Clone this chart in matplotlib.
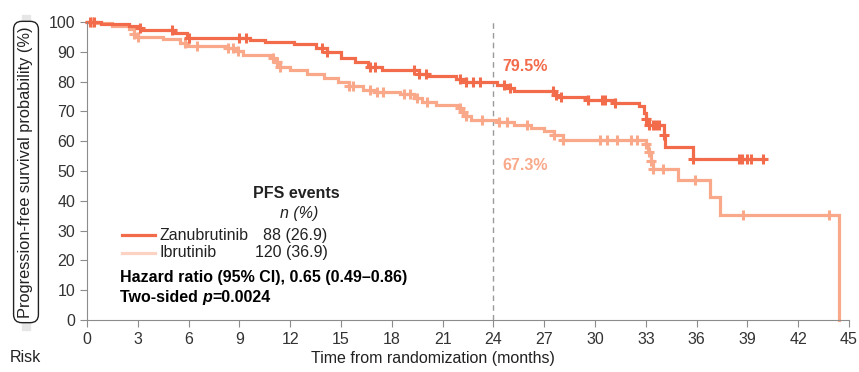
import matplotlib.pyplot as plt
import numpy as np
from matplotlib.lines import Line2D
from matplotlib.patches import Rectangle

plt.rcParams["font.family"] = ["Liberation Sans", "DejaVu Sans"]

ZANU_COLOR = "#f26b4b"
IBRU_COLOR = "#f9a98a"
IBRU_LEGEND = "#fcd3c3"
TEXT_COLOR = "#222222"
AXIS_COLOR = "#8c8c8c"

# Kaplan-Meier steps (months, PFS %)
zanu_time = [0, 0.8, 2.5, 3.0, 3.2, 5.2, 5.9, 9.6, 10.5, 12.2, 13.5, 14.2, 15.0,
             15.8, 16.6, 17.4, 19.6, 20.2, 21.8, 22.4, 24.2, 24.8, 25.2, 27.6,
             27.9, 29.6, 31.2, 32.6, 32.9, 33.0, 33.2, 34.05, 34.15, 35.8, 40.0]
zanu_surv = [100, 99.4, 98.8, 98.0, 97.2, 96.4, 94.5, 94.0, 93.2, 92.5, 91.2, 89.8,
             88.0, 86.5, 85.0, 83.8, 82.6, 82.0, 81.0, 80.0, 79.0, 77.8, 77.0, 75.5,
             74.8, 73.8, 72.8, 71.8, 69.5, 67.5, 65.5, 62.0, 58.0, 54.0, 54.0]
zanu_censor = [0.2, 0.4, 3.1, 5.0, 6.0, 9.0, 9.4, 13.9, 14.2, 16.7, 17.0, 19.3,
               19.6, 20.0, 22.0, 22.4, 22.8, 23.2, 24.6, 25.0, 27.5, 27.7, 28.0,
               29.6, 30.4, 30.6, 31.2, 33.0, 33.2, 33.4, 33.6, 33.8, 34.1, 35.8,
               38.5, 38.7, 39.0, 39.2, 39.9]

ibru_time = [0, 0.5, 1.5, 2.5, 2.8, 3.0, 4.5, 5.5, 5.9, 8.2, 8.8, 9.2, 10.9, 11.1,
             11.4, 12.0, 13.0, 14.0, 14.8, 15.5, 16.3, 17.0, 18.5, 19.3, 19.8,
             20.6, 21.9, 22.1, 22.4, 22.7, 24.3, 25.2, 26.2, 27.0, 27.6, 28.1,
             33.0, 33.15, 33.3, 33.4, 34.9, 36.8, 37.4, 44.4]
ibru_surv = [100, 99.5, 98.5, 97.5, 96.0, 95.0, 94.3, 93.0, 92.0, 91.3, 90.2, 89.0,
             88.0, 86.5, 85.0, 84.0, 82.5, 81.2, 80.0, 78.5, 77.2, 76.6, 75.8, 74.5,
             73.0, 72.2, 71.2, 69.8, 68.5, 67.2, 66.5, 65.5, 64.5, 63.5, 62.0, 60.4,
             59.0, 56.5, 53.5, 50.8, 47.0, 41.2, 35.2, 0]
ibru_censor = [0.3, 2.8, 3.0, 5.8, 6.5, 8.3, 8.6, 8.9, 11.0, 11.2, 11.4, 15.5,
               15.7, 16.7, 17.1, 17.5, 18.7, 19.1, 19.5, 20.1, 22.0, 22.2, 22.4,
               23.3, 24.3, 24.8, 26.0, 27.6, 28.1, 30.3, 30.7, 31.3, 32.1, 32.5,
               33.0, 33.2, 33.3, 33.4, 34.0, 35.9, 38.75, 43.8]

x_ticks = list(range(0, 46, 3))
y_ticks = list(range(0, 101, 10))


def surv_at(times, surv, t):
    idx = np.searchsorted(times, t, side="right") - 1
    return np.asarray(surv)[idx]


def main():
    fig = plt.figure(figsize=(8.59, 3.72), dpi=100)
    ax = fig.add_axes([0.1013, 0.1398, 0.8871, 0.8011])

    # grey strip + rounded box for the y label
    fig.patches.append(Rectangle((22 / 859, 1 - 330 / 372), 8 / 859, 315 / 372,
                                 transform=fig.transFigure, color="#e6e6e6", zorder=0))
    fig.text(26 / 859, 1 - 172 / 372, "Progression-free survival probability (%)",
             rotation=90, ha="center", va="center", fontsize=11.8, color=TEXT_COLOR,
             bbox=dict(boxstyle="round,pad=0.3,rounding_size=0.5", fc="white",
                       ec="#222222", lw=1.0))

    for times, surv, censor, color in [
        (ibru_time, ibru_surv, ibru_censor, IBRU_COLOR),
        (zanu_time, zanu_surv, zanu_censor, ZANU_COLOR),
    ]:
        ax.step(times, surv, where="post", color=color, lw=2.3, clip_on=False,
                solid_joinstyle="miter")
        cy = surv_at(times, surv, np.array(censor))
        ax.plot(censor, cy, "+", color=color, ms=7, mew=2.2, clip_on=False)

    ax.axvline(24, color="#9a9a9a", lw=1, ls=(0, (4, 3)), zorder=0)
    ax.text(24.5, 85.2, "79.5%", color=ZANU_COLOR, fontsize=11.5, fontweight="bold",
            va="center")
    ax.text(24.5, 52.0, "67.3%", color=IBRU_COLOR, fontsize=11.5, fontweight="bold",
            va="center")

    # legend block
    fs = 11.5
    ax.text(12.37, 42.6, "PFS events", fontsize=fs, fontweight="bold", ha="center",
            va="center", color=TEXT_COLOR)
    ax.text(12.5, 35.9, "n (%)", fontsize=fs, style="italic", ha="center",
            va="center", color=TEXT_COLOR)
    ax.add_line(Line2D([2.05, 4.0], [28.5, 28.5], color=ZANU_COLOR, lw=2.3))
    ax.add_line(Line2D([2.05, 4.0], [22.5, 22.5], color=IBRU_LEGEND, lw=2.3))
    ax.text(4.3, 28.5, "Zanubrutinib", fontsize=fs, va="center", color=TEXT_COLOR)
    ax.text(4.3, 22.5, "Ibrutinib", fontsize=fs, va="center", color=TEXT_COLOR)
    ax.text(14.2, 28.5, "88 (26.9)", fontsize=fs, va="center", ha="right",
            color=TEXT_COLOR)
    ax.text(14.2, 22.5, "120 (36.9)", fontsize=fs, va="center", ha="right",
            color=TEXT_COLOR)
    ax.text(1.95, 14.1, "Hazard ratio (95% CI), 0.65 (0.49\u20130.86)", fontsize=fs,
            fontweight="bold", va="center", color="black")
    t1 = ax.text(1.95, 7.7, "Two-sided ", fontsize=fs, fontweight="bold",
                 va="center", color="black")
    t2 = ax.annotate("p", xy=(1, 0), xycoords=t1, va="bottom", fontsize=fs,
                     fontweight="bold", style="italic", color="black")
    ax.annotate("=0.0024", xy=(1, 0), xycoords=t2, va="bottom", fontsize=fs,
                fontweight="bold", color="black")

    ax.set_xlim(0, 45)
    ax.set_ylim(0, 100)
    ax.set_xticks(x_ticks)
    ax.set_yticks(y_ticks)
    ax.tick_params(colors=AXIS_COLOR, labelcolor="#333333", labelsize=11.5, length=5)
    for side in ["top", "right"]:
        ax.spines[side].set_visible(False)
    for side in ["left", "bottom"]:
        ax.spines[side].set_color(AXIS_COLOR)

    fig.text(433 / 859, 1 - 358 / 372, "Time from randomization (months)",
             ha="center", va="center", fontsize=11.5, color=TEXT_COLOR)
    fig.text(10 / 859, 1 - 358 / 372, "Risk", ha="left", va="center", fontsize=11.5,
             color=TEXT_COLOR)

    fig.savefig("out.png", dpi=100)
    plt.close(fig)


if __name__ == "__main__":
    main()
